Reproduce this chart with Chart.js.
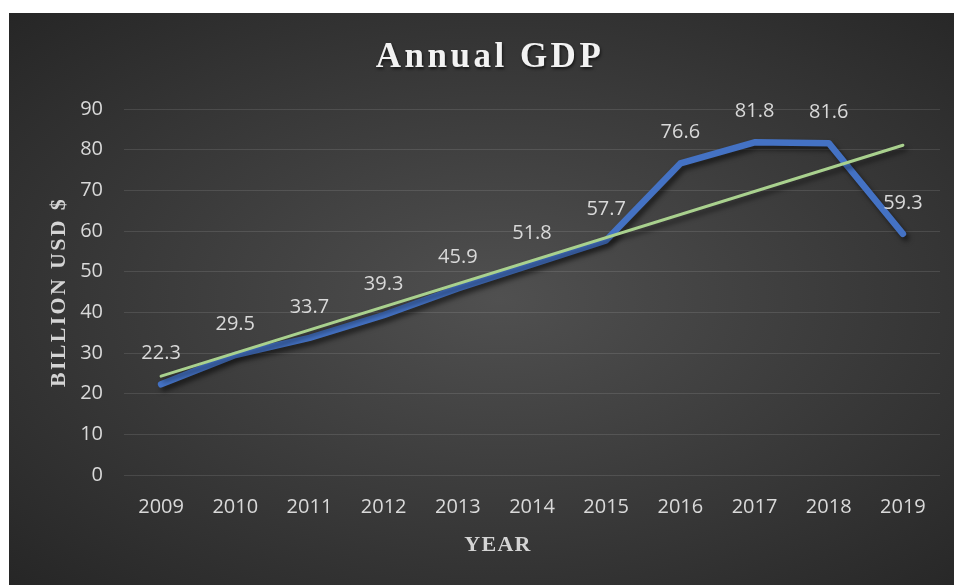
<!DOCTYPE html>
<html>
<head>
<meta charset="utf-8">
<script src="https://cdn.jsdelivr.net/npm/chart.js@4"></script>
<style>
  html, body { margin: 0; padding: 0; background: #ffffff; }
  .chart-box {
    position: absolute;
    left: 9px;
    top: 13px;
    width: 945px;
    height: 572px;
    background: radial-gradient(ellipse at 52% 50%, #505050 0%, #3d3d3d 45%, #262626 100%);
  }
</style>
</head>
<body>
<div class="chart-box">
  <canvas id="chart"></canvas>
</div>
<script>
// yearly figures, billion USD
const years = ['2009', '2010', '2011', '2012', '2013', '2014', '2015', '2016', '2017', '2018', '2019'];
const gdp = [22.3, 29.5, 33.7, 39.3, 45.9, 51.8, 57.7, 76.6, 81.8, 81.6, 59.3];
// linear trend, start and end
const trendYears = ['2009', '2019'];
const trendValues = [24.3, 81.1];
const yTicks = [0, 10, 20, 30, 40, 50, 60, 70, 80, 90];

const labelFont = '20px "Open Sans", sans-serif';
const labelColor = '#d9d9d9';

// soft drop shadow under the lines
const lineShadow = {
  id: 'lineShadow',
  beforeDatasetDraw(chart) {
    const ctx = chart.ctx;
    ctx.save();
    ctx.shadowColor = 'rgba(0,0,0,0.55)';
    ctx.shadowBlur = 5;
    ctx.shadowOffsetX = 3;
    ctx.shadowOffsetY = 4;
  },
  afterDatasetDraw(chart) {
    chart.ctx.restore();
  }
};

// value above each GDP point
const valueLabels = {
  id: 'valueLabels',
  afterDatasetsDraw(chart) {
    const ctx = chart.ctx;
    const meta = chart.getDatasetMeta(1);
    ctx.save();
    ctx.font = labelFont;
    ctx.fillStyle = labelColor;
    ctx.textAlign = 'center';
    ctx.textBaseline = 'middle';
    meta.data.forEach((pt, i) => {
      ctx.fillText(gdp[i].toFixed(1), pt.x, pt.y - 31);
    });
    ctx.restore();
  }
};

// chart title and axis titles, spaced serif
const titles = {
  id: 'titles',
  afterDraw(chart) {
    const ctx = chart.ctx;
    ctx.save();
    ctx.textAlign = 'center';
    ctx.textBaseline = 'alphabetic';

    ctx.shadowColor = 'rgba(0,0,0,0.6)';
    ctx.shadowBlur = 3;
    ctx.shadowOffsetX = 1;
    ctx.shadowOffsetY = 2;
    ctx.font = 'bold 35px "Liberation Serif", serif';
    ctx.letterSpacing = '3.5px';
    ctx.fillStyle = '#f2f2f2';
    ctx.fillText('Annual GDP', 481, 54);

    ctx.shadowColor = 'transparent';
    ctx.font = 'bold 22px "Liberation Serif", serif';
    ctx.fillStyle = '#d4d4d4';
    ctx.letterSpacing = '1.3px';
    ctx.fillText('YEAR', 489, 538);

    ctx.letterSpacing = '2.3px';
    ctx.translate(56, 279);
    ctx.rotate(-Math.PI / 2);
    ctx.fillText('BILLION USD $', 0, 0);
    ctx.restore();
  }
};

const ctx = document.getElementById('chart');
new Chart(ctx, {
  type: 'line',
  data: {
    labels: years,
    datasets: [
      {
        label: 'Linear (GDP)',
        data: trendYears.map((y, i) => ({ x: y, y: trendValues[i] })),
        borderColor: '#a9d18e',
        borderWidth: 3,
        borderCapStyle: 'round',
        pointRadius: 0,
        order: 0
      },
      {
        label: 'GDP',
        data: gdp,
        borderColor: '#4472c4',
        borderWidth: 6.5,
        borderCapStyle: 'round',
        borderJoinStyle: 'round',
        pointRadius: 0,
        order: 1
      }
    ]
  },
  options: {
    responsive: true,
    maintainAspectRatio: false,
    animation: false,
    layout: { padding: { top: 96, right: 14, left: 0, bottom: 0 } },
    plugins: {
      legend: { display: false },
      title: { display: false },
      tooltip: { enabled: false }
    },
    scales: {
      x: {
        type: 'category',
        offset: true,
        grid: { display: false, drawTicks: false },
        border: { display: false },
        ticks: { color: labelColor, font: { family: '"Open Sans", sans-serif', size: 20 }, padding: 20, maxRotation: 0 },
        afterFit(scale) { scale.height = 110; }
      },
      y: {
        min: 0,
        max: 90,
        afterBuildTicks(scale) { scale.ticks = yTicks.map(v => ({ value: v })); },
        grid: { color: 'rgba(255,255,255,0.11)', lineWidth: 1, drawTicks: false },
        border: { display: false },
        ticks: { color: labelColor, font: { family: '"Open Sans", sans-serif', size: 20 }, padding: 21 },
        afterFit(scale) { scale.width = 115; }
      }
    }
  },
  plugins: [lineShadow, valueLabels, titles]
});
</script>
</body>
</html>
